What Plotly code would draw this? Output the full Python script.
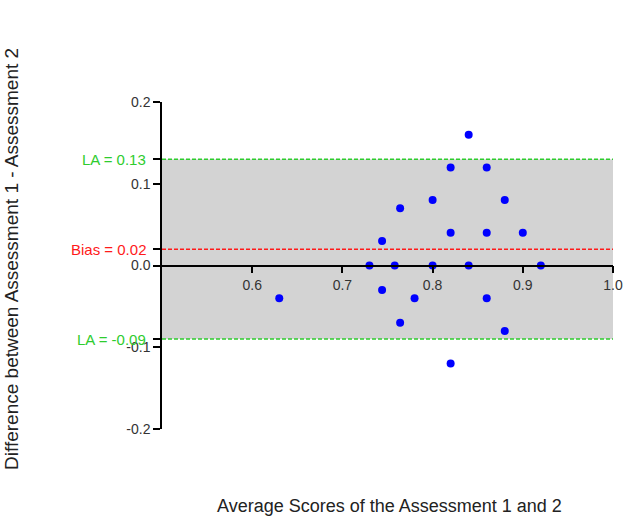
import plotly.graph_objects as go

# Data
avg_scores = [0.84, 0.82, 0.86, 0.80, 0.764, 0.88, 0.82, 0.86, 0.90, 0.744,
              0.73, 0.758, 0.80, 0.84, 0.92,
              0.63, 0.744, 0.78, 0.764, 0.86, 0.88, 0.82]
differences = [0.16, 0.12, 0.12, 0.08, 0.07, 0.08, 0.04, 0.04, 0.04, 0.03,
               0.0, 0.0, 0.0, 0.0, 0.0,
               -0.04, -0.03, -0.04, -0.07, -0.04, -0.08, -0.12]

bias = 0.02
la_upper = 0.13
la_lower = -0.09

x_ticks = [0.6, 0.7, 0.8, 0.9, 1.0]
x_ticklabels = ["0.6", "0.7", "0.8", "0.9", "1.0"]
y_ticks = [-0.2, -0.1, la_lower, 0.0, bias, 0.1, la_upper, 0.2]
y_ticklabels = ["-0.2", "-0.1", "", "0.0", "", "0.1", "", "0.2"]

x_range = [0.5, 1.0]
y_range = [-0.2, 0.2]

GREEN = "#2ecc2e"
RED = "#ff1a1a"
FONT = "Liberation Sans, Arial, sans-serif"

fig = go.Figure()

fig.add_trace(go.Scatter(
    x=avg_scores, y=differences, mode="markers",
    marker=dict(color="#0000ff", size=8, line=dict(width=0)),
    showlegend=False, hoverinfo="x+y",
))

# grey band between limits of agreement
fig.add_shape(type="rect", xref="x", yref="y",
              x0=x_range[0], x1=x_range[1], y0=la_lower, y1=la_upper,
              fillcolor="#d3d3d3", line=dict(width=0), layer="below")

for val, col in [(la_upper, GREEN), (bias, RED), (la_lower, GREEN)]:
    fig.add_shape(type="line", xref="x", yref="y",
                  x0=x_range[0], x1=x_range[1], y0=val, y1=val,
                  line=dict(color=col, width=1.5, dash="4px,2px"), layer="above")

labels = [(la_upper, f"LA = {la_upper:.2f}", GREEN),
          (bias, f"Bias = {bias:.2f}", RED),
          (la_lower, f"LA = {la_lower:.2f}", GREEN)]
for val, txt, col in labels:
    fig.add_annotation(xref="paper", yref="y", x=0, y=val, text=txt,
                       showarrow=False, xanchor="right", yanchor="middle",
                       xshift=-14, font=dict(family=FONT, size=15, color=col))

# axis titles
fig.add_annotation(xref="paper", yref="paper", x=0.5, y=0, yshift=-77,
                   xshift=2,
                   text="Average Scores of the Assessment 1 and 2",
                   showarrow=False, xanchor="center", yanchor="middle",
                   font=dict(family=FONT, size=18, color="#222222"))
fig.add_annotation(xref="paper", yref="paper", x=0, y=0.52, xshift=-150,
                   text="Difference between Assessment 1 - Assessment 2",
                   textangle=-90, showarrow=False,
                   xanchor="center", yanchor="middle",
                   font=dict(family=FONT, size=19, color="#222222"))

fig.update_layout(
    width=625, height=519,
    margin=dict(l=162, r=12, t=102, b=90, pad=0, autoexpand=False),
    paper_bgcolor="white", plot_bgcolor="white",
    font=dict(family=FONT, size=14, color="#333333"),
    xaxis=dict(range=x_range, tickvals=x_ticks, ticktext=x_ticklabels,
               showgrid=False, zeroline=False, showline=True,
               linecolor="black", linewidth=1.5, automargin=False,
               ticks="outside", ticklen=7, tickwidth=1.5, tickcolor="black",
               anchor="free", position=0.5,
               tickfont=dict(family=FONT, size=14, color="#333333")),
    yaxis=dict(range=y_range, tickvals=y_ticks, ticktext=y_ticklabels,
               showgrid=False, zeroline=False, showline=True,
               linecolor="black", linewidth=1.5, automargin=False,
               ticks="outside", ticklen=7, tickwidth=1.5, tickcolor="black",
               tickfont=dict(family=FONT, size=14, color="#333333")),
)

fig.write_html("out.html")
